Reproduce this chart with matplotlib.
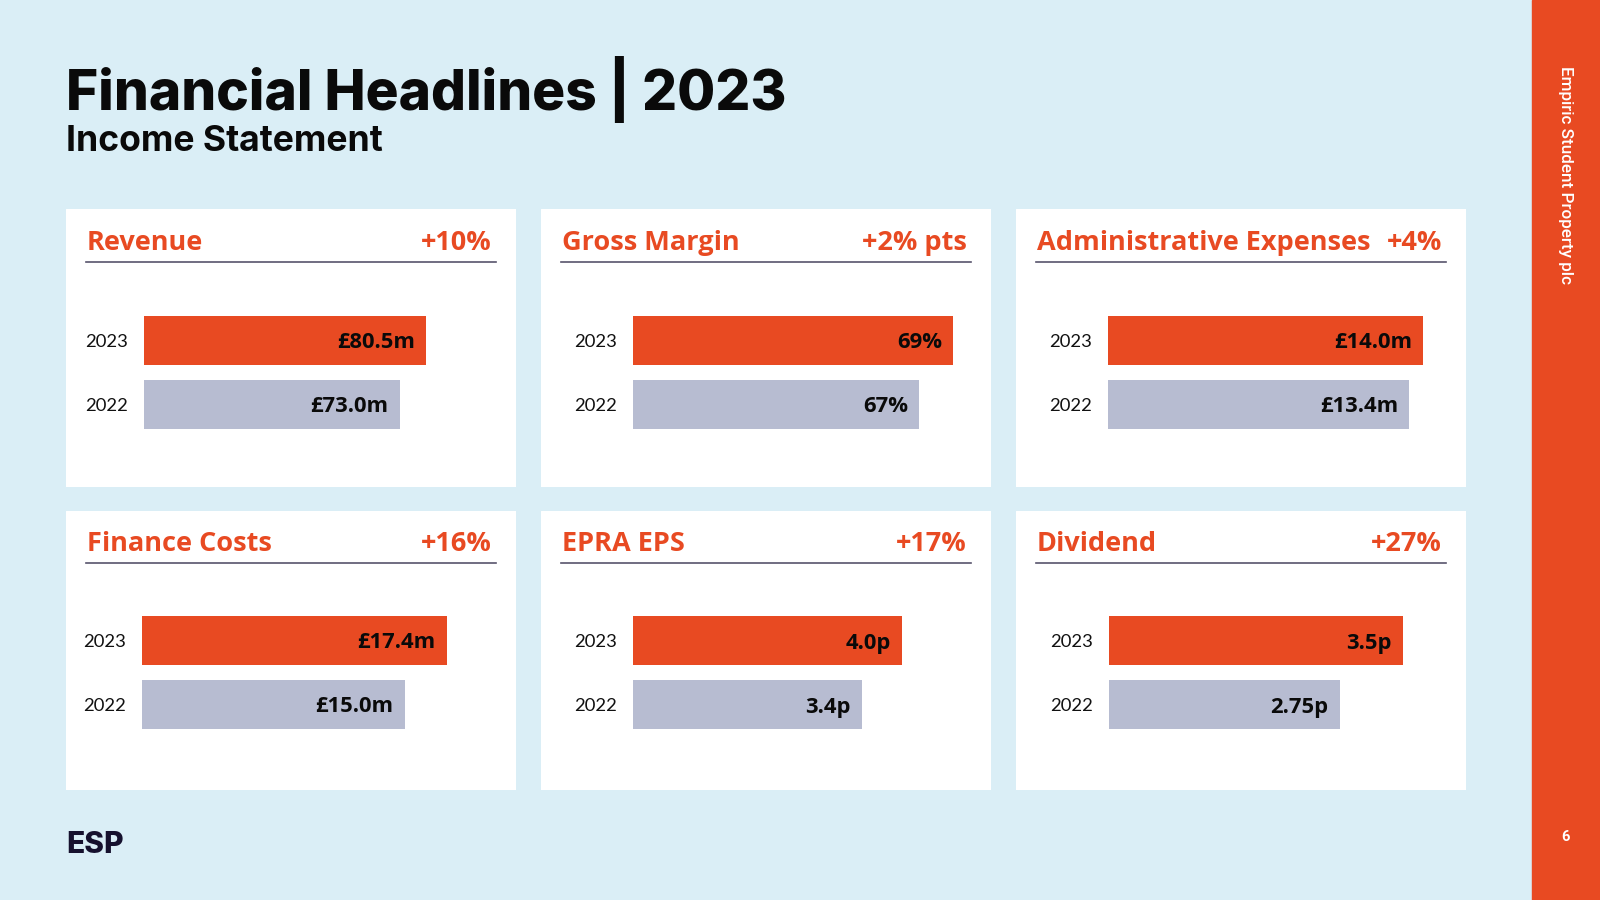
import matplotlib.pyplot as plt
from matplotlib.patches import Rectangle

# data
titles = ["Revenue", "Gross Margin", "Administrative Expenses",
          "Finance Costs", "EPRA EPS", "Dividend"]
changes = ["+10%", "+2% pts", "+4%", "+16%", "+17%", "+27%"]
years = ["2023", "2022"]
vals_2023 = [80.5, 69, 14.0, 17.4, 4.0, 3.5]
vals_2022 = [73.0, 67, 13.4, 15.0, 3.4, 2.75]
labels_2023 = ["£80.5m", "69%", "£14.0m", "£17.4m", "4.0p", "3.5p"]
labels_2022 = ["£73.0m", "67%", "£13.4m", "£15.0m", "3.4p", "2.75p"]

# per-panel scale (each card has its own axis)
xmin = [0, 50.2, 0, 0, 0, 0]
xmax = [100, 70.76, 15.56, 20.0, 5.2, 4.17]

orange = "#e84a22"
grey = "#b7bcd1"
bg = "#daeef6"
navy = "#16112e"

W, H = 1600, 900
fig = plt.figure(figsize=(16, 9), dpi=100)
fig.patch.set_facecolor(bg)


def box(x, y, w, h):
    return [x / W, 1 - (y + h) / H, w / W, h / H]


# right hand strip
fig.add_artist(Rectangle((1532 / W, 0), 68 / W, 1, transform=fig.transFigure,
                         color=orange, zorder=0))
fig.text(1566 / W, 1 - 66 / H, "Empiric Student Property plc", rotation=-90,
         ha="center", va="top", color="white", fontsize=12.3,
         fontweight="medium", family="Roboto")
fig.text(1566 / W, 1 - 837 / H, "6", ha="center", va="center", color="white",
         fontsize=10.5, fontweight="bold", family="Roboto")

# titles
fig.text(66 / W, 1 - 110 / H, "Financial Headlines | 2023", ha="left",
         va="baseline", fontsize=39.6, fontweight="heavy", family="Inter",
         color="#0a0a0a")
fig.text(66 / W, 1 - 151 / H, "Income Statement", ha="left", va="baseline",
         fontsize=25.6, fontweight="bold", family="Inter", color="#0a0a0a")
fig.text(66 / W, 1 - 853 / H, "ESP", ha="left", va="baseline", fontsize=21.5,
         fontweight="heavy", family="Inter", color=navy)

col_x = [66, 541, 1016]
row_y = [209, 511]
row_h = [278, 279]
bar_off = [78, 92, 92, 76, 92, 93]
bar_top = [99.5, 97.5]

for k in range(6):
    r, c = divmod(k, 3)
    px, py, ph = col_x[c], row_y[r], row_h[r]

    pan = fig.add_axes(box(px, py, 450, ph))
    pan.set_xlim(0, 450)
    pan.set_ylim(ph, 0)
    pan.axis("off")
    pan.add_patch(Rectangle((0, 0), 450, ph, color="white"))
    base = 41 if r == 0 else 40
    pan.text(21, base, titles[k], ha="left", va="baseline", fontsize=19.5,
             fontweight="bold", family="Open Sans", color=orange)
    pan.text(426, base, changes[k], ha="right", va="baseline", fontsize=19.5,
             fontweight="bold", family="Open Sans", color=orange)
    pan.plot([20, 430], [base + 12, base + 12], color="#58546c", lw=1.2)

    bx = fig.add_axes(box(px + bar_off[k], py + bar_top[r], 350, 128))
    bx.patch.set_alpha(0)
    vals = [vals_2023[k], vals_2022[k]]
    labs = [labels_2023[k], labels_2022[k]]
    bx.barh([0, 1], vals, height=0.766, color=[orange, grey])
    bx.set_xlim(xmin[k], xmax[k])
    bx.set_ylim(1.5, -0.5)
    for s in bx.spines.values():
        s.set_visible(False)
    bx.set_xticks([])
    bx.set_yticks([0, 1])
    bx.set_yticklabels(years, fontsize=13.3, family="Lato", color="#111111")
    bx.tick_params(axis="y", length=0, pad=11.5)
    for i, (v, lab) in enumerate(zip(vals, labs)):
        bx.annotate(lab, (v, i), xytext=(-8, 0), textcoords="offset points",
                    ha="right", va="center_baseline", fontsize=15.8,
                    fontweight="bold", family="Open Sans", color="#0a0a0a")

fig.savefig("out.png", dpi=100, facecolor=bg)
